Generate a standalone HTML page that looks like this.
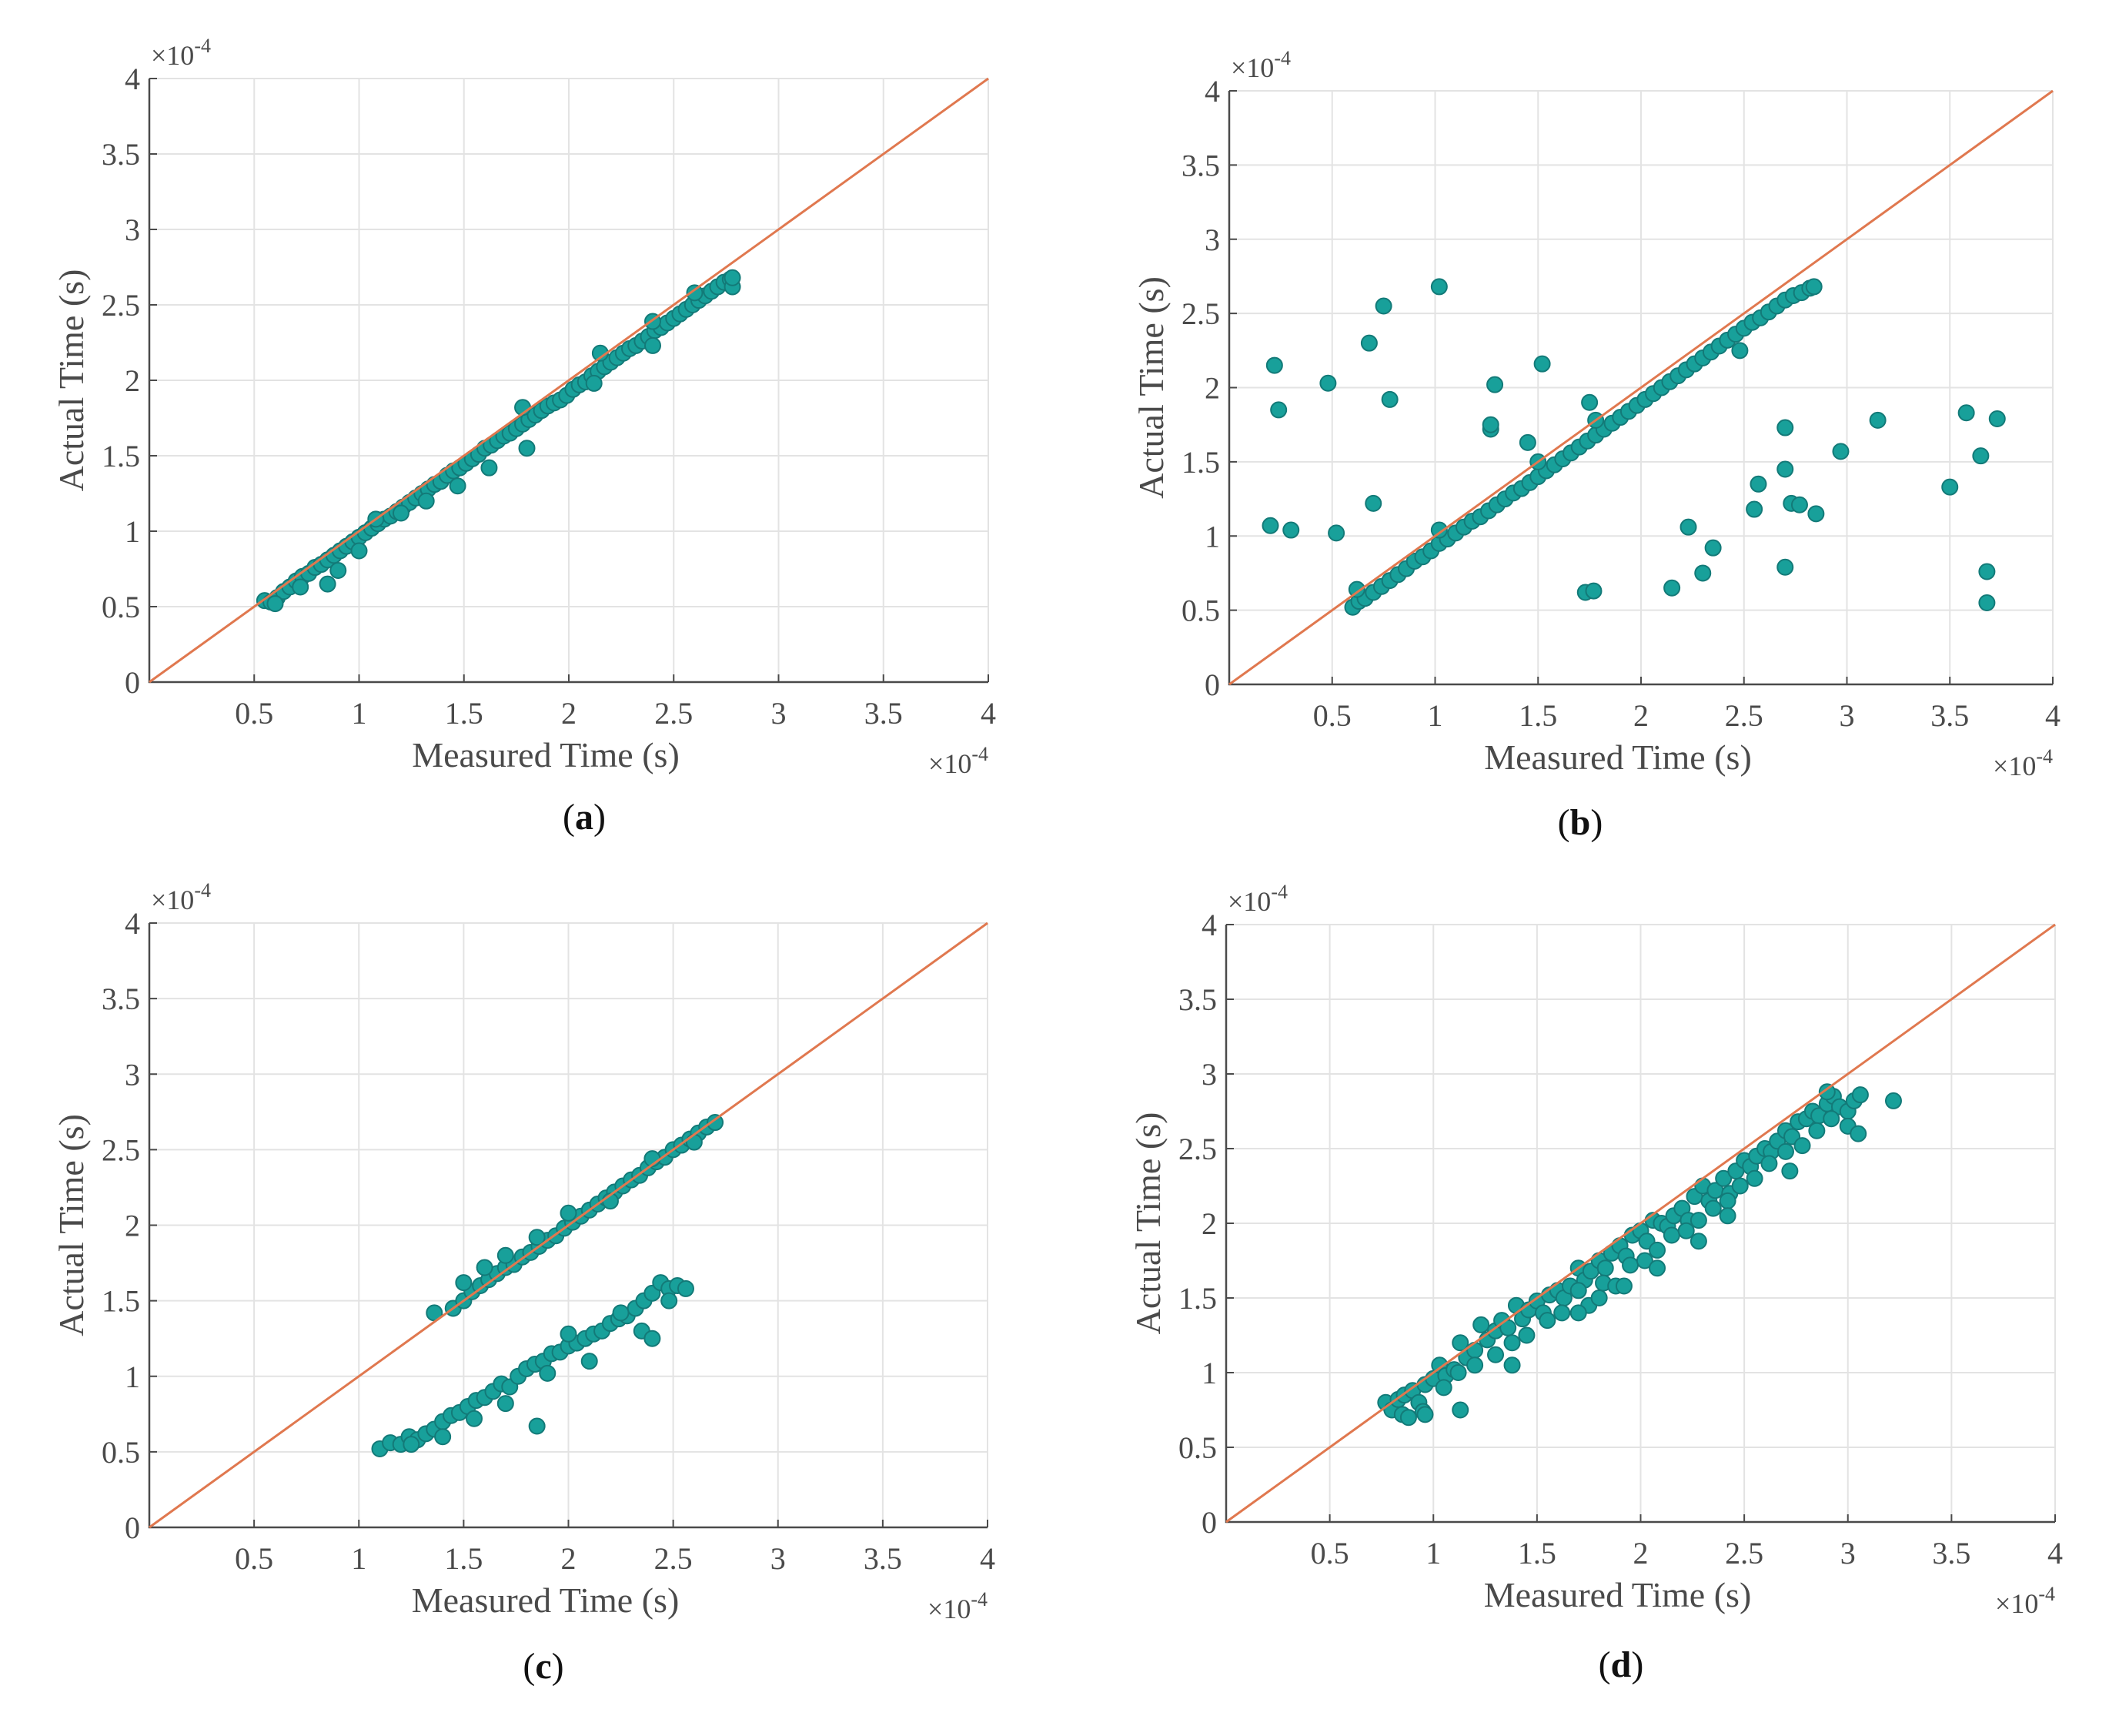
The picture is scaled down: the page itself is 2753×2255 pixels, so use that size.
<!DOCTYPE html>
<html><head><meta charset="utf-8"><style>
html,body{margin:0;padding:0;background:#fff;}
svg{display:block;}
text{font-family:"Liberation Serif",serif;}
</style></head><body>
<svg id="fig" width="2753" height="2255" viewBox="0 0 2753 2255" xmlns="http://www.w3.org/2000/svg"></svg>
<script>
// Data (units of 1e-4 s)
const xTicks=[0,0.5,1,1.5,2,2.5,3,3.5,4];
const xTickLabels=["","0.5","1","1.5","2","2.5","3","3.5","4"];
const yTicks=[0,0.5,1,1.5,2,2.5,3,3.5,4];
const yTickLabels=["0","0.5","1","1.5","2","2.5","3","3.5","4"];
const panelLabels=["a","b","c","d"];

const aX=[0.55,0.58,0.61,0.64,0.67,0.70,0.73,0.76,0.79,0.82,0.85,0.88,0.91,0.94,0.97,1.00,1.03,1.06,1.09,1.12,1.15,1.18,1.21,1.24,1.27,1.30,1.33,1.36,1.39,1.42,1.45,1.48,1.51,1.54,1.57,1.60,1.63,1.66,1.69,1.72,1.75,1.78,1.81,1.84,1.87,1.90,1.93,1.96,1.99,2.02,2.05,2.08,2.11,2.14,2.17,2.20,2.23,2.26,2.29,2.32,2.35,2.38,2.41,2.44,2.47,2.50,2.53,2.56,2.59,2.62,2.65,2.68,2.71,2.74,2.77,2.78,0.6,0.72,0.85,0.9,1.0,1.08,1.2,1.32,1.47,1.62,1.8,1.78,2.15,2.12,2.4,2.4,2.6,2.78];
const aY=[0.54,0.53,0.56,0.60,0.63,0.67,0.70,0.72,0.76,0.78,0.81,0.84,0.87,0.90,0.93,0.96,0.99,1.02,1.05,1.08,1.10,1.13,1.16,1.19,1.22,1.25,1.28,1.31,1.33,1.37,1.40,1.42,1.45,1.48,1.51,1.55,1.57,1.60,1.63,1.65,1.68,1.71,1.74,1.77,1.80,1.83,1.85,1.87,1.90,1.94,1.97,1.99,2.03,2.06,2.09,2.12,2.15,2.18,2.21,2.23,2.26,2.29,2.33,2.35,2.38,2.41,2.44,2.47,2.50,2.53,2.56,2.59,2.62,2.65,2.67,2.62,0.52,0.63,0.65,0.74,0.87,1.08,1.12,1.2,1.3,1.42,1.55,1.82,2.18,1.98,2.23,2.39,2.58,2.68];

const bX=[0.60,0.63,0.66,0.70,0.74,0.78,0.82,0.86,0.90,0.94,0.98,1.02,1.06,1.10,1.14,1.18,1.22,1.26,1.30,1.34,1.38,1.42,1.46,1.50,1.54,1.58,1.62,1.66,1.70,1.74,1.78,1.82,1.86,1.90,1.94,1.98,2.02,2.06,2.10,2.14,2.18,2.22,2.26,2.30,2.34,2.38,2.42,2.46,2.50,2.54,2.58,2.62,2.66,2.70,2.74,2.78,2.82,2.84,0.62,1.02,1.5,1.78,2.48,
0.22,0.24,0.20,0.30,0.48,0.52,0.68,0.75,0.70,0.78,1.02,1.27,1.27,1.29,1.52,1.45,1.75,1.73,1.77,2.15,2.23,2.30,2.35,2.55,2.57,2.70,2.70,2.70,2.73,2.77,2.85,2.97,3.15,3.50,3.58,3.65,3.68,3.68,3.73];
const bY=[0.52,0.56,0.58,0.62,0.66,0.70,0.74,0.78,0.83,0.86,0.90,0.95,0.98,1.02,1.06,1.10,1.13,1.17,1.21,1.25,1.29,1.32,1.36,1.40,1.44,1.48,1.52,1.56,1.60,1.64,1.68,1.72,1.76,1.80,1.84,1.88,1.92,1.96,2.00,2.04,2.08,2.12,2.16,2.20,2.24,2.28,2.32,2.36,2.40,2.44,2.47,2.51,2.55,2.59,2.62,2.64,2.67,2.68,0.64,1.04,1.5,1.78,2.25,
2.15,1.85,1.07,1.04,2.03,1.02,2.30,2.55,1.22,1.92,2.68,1.72,1.75,2.02,2.16,1.63,1.90,0.62,0.63,0.65,1.06,0.75,0.92,1.18,1.35,1.73,1.45,0.79,1.22,1.21,1.15,1.57,1.78,1.33,1.83,1.54,0.76,0.55,1.79];

const cX=[1.36,1.45,1.5,1.54,1.58,1.62,1.66,1.70,1.74,1.78,1.82,1.86,1.90,1.94,1.98,2.02,2.06,2.10,2.14,2.18,2.22,2.26,2.30,2.34,2.38,2.42,2.46,2.50,2.54,2.58,2.62,2.66,2.70,1.5,1.6,1.7,1.85,2.0,2.2,2.4,2.6,
1.1,1.15,1.2,1.24,1.28,1.32,1.36,1.40,1.44,1.48,1.52,1.56,1.60,1.64,1.68,1.72,1.76,1.80,1.84,1.88,1.92,1.96,2.00,2.04,2.08,2.12,2.16,2.20,2.24,2.28,2.32,2.36,2.40,2.44,2.48,2.52,2.56,1.25,1.4,1.55,1.7,1.85,1.9,2.0,2.1,2.25,2.35,2.4,2.48];
const cY=[1.42,1.45,1.50,1.56,1.60,1.64,1.68,1.72,1.74,1.79,1.82,1.86,1.90,1.93,1.98,2.02,2.06,2.10,2.14,2.18,2.22,2.26,2.30,2.33,2.38,2.42,2.45,2.50,2.53,2.57,2.61,2.65,2.68,1.62,1.72,1.80,1.92,2.08,2.16,2.44,2.55,
0.52,0.56,0.55,0.60,0.58,0.62,0.65,0.70,0.74,0.76,0.80,0.84,0.86,0.90,0.95,0.93,1.00,1.05,1.08,1.10,1.15,1.16,1.20,1.22,1.25,1.28,1.30,1.35,1.38,1.40,1.45,1.50,1.55,1.62,1.58,1.60,1.58,0.55,0.6,0.72,0.82,0.67,1.02,1.28,1.1,1.42,1.3,1.25,1.5];

const dX=[0.77,0.8,0.83,0.86,0.9,0.93,0.96,1.0,1.03,1.06,1.1,1.13,1.16,1.2,1.23,1.26,1.3,1.33,1.36,1.4,1.43,1.46,1.5,1.53,1.56,1.6,1.63,1.66,1.7,1.73,1.76,1.8,1.83,1.86,1.9,1.93,1.96,2.0,2.03,2.06,2.1,2.13,2.16,2.2,2.23,2.26,2.3,2.33,2.36,2.4,2.43,2.46,2.5,2.53,2.56,2.6,2.63,2.66,2.7,2.73,2.76,2.8,2.83,2.86,2.9,2.93,2.96,3.0,3.03,3.06,3.22,
0.85,0.95,1.05,1.12,1.2,1.3,1.38,1.45,1.55,1.62,1.7,1.75,1.82,1.88,1.95,2.02,2.08,2.15,2.22,2.28,2.35,2.42,2.48,2.55,2.62,2.7,2.78,2.85,2.92,3.0,3.05,0.88,0.96,1.13,1.38,1.7,1.8,1.92,2.08,2.28,2.42,2.72,2.9];
const dY=[0.80,0.75,0.82,0.85,0.88,0.80,0.92,0.96,1.05,0.98,1.02,1.20,1.10,1.15,1.32,1.22,1.28,1.35,1.30,1.45,1.36,1.42,1.48,1.40,1.52,1.55,1.50,1.58,1.70,1.62,1.68,1.75,1.70,1.80,1.85,1.78,1.92,1.95,1.88,2.02,2.00,1.98,2.05,2.10,2.02,2.18,2.25,2.15,2.22,2.30,2.20,2.35,2.42,2.38,2.45,2.50,2.48,2.55,2.62,2.58,2.68,2.70,2.75,2.72,2.80,2.85,2.78,2.75,2.82,2.86,2.82,
0.72,0.74,0.90,1.00,1.05,1.12,1.20,1.25,1.35,1.40,1.55,1.45,1.60,1.58,1.72,1.75,1.82,1.92,1.95,2.02,2.10,2.15,2.25,2.30,2.40,2.48,2.52,2.62,2.70,2.65,2.60,0.70,0.72,0.75,1.05,1.40,1.50,1.58,1.70,1.88,2.05,2.35,2.88];

const svg=document.getElementById('fig');
const NS='http://www.w3.org/2000/svg';
function mk(tag,attrs,parent){const e=document.createElementNS(NS,tag);for(const k in attrs)e.setAttribute(k,attrs[k]);(parent||svg).appendChild(e);return e;}

const panels=[
 {L:194,R:1284,T:102,B:886,xs:aX,ys:aY,lx:759,ly:1077},
 {L:1597,R:2667,T:118,B:889,xs:bX,ys:bY,lx:2053,ly:1084},
 {L:194,R:1283,T:1199,B:1984,xs:cX,ys:cY,lx:706,ly:2180},
 {L:1593,R:2670,T:1201,B:1977,xs:dX,ys:dY,lx:2106,ly:2178}
];

panels.forEach((p,i)=>{
 const g=mk('g',{});
 
 
 const sx=v=>p.L+(v-0)/(4-0)*(p.R-p.L);
 const sy=v=>p.B-(v-0)/(4-0)*(p.B-p.T);
 xTicks.forEach((t,k)=>{
  const l=mk('line',{x1:sx(t),x2:sx(t),y1:p.T,y2:p.B,stroke:'#e3e3e3','stroke-width':2},g);
  
  
 });
 yTicks.forEach((t,k)=>{
  const l=mk('line',{x1:p.L,x2:p.R,y1:sy(t),y2:sy(t),stroke:'#e3e3e3','stroke-width':2},g);
  
  
 });
 const ax=mk('path',{d:`M${p.L},${p.T}V${p.B}H${p.R}`,fill:'none',stroke:'#4a4a4a','stroke-width':2.5},g);
 
 
 xTicks.forEach((t,k)=>{
  mk('line',{x1:sx(t),x2:sx(t),y1:p.B,y2:p.B-10,stroke:'#4a4a4a','stroke-width':2},g);
  const tx=mk('text',{x:sx(t),y:p.B+54,'font-size':40,fill:'#4a4a4a','text-anchor':'middle'},g);
  tx.textContent=xTickLabels[k];
  
  
 });
 yTicks.forEach((t,k)=>{
  mk('line',{x1:p.L,x2:p.L+10,y1:sy(t),y2:sy(t),stroke:'#4a4a4a','stroke-width':2},g);
  const tx=mk('text',{x:p.L-12,y:sy(t)+14,'font-size':40,fill:'#4a4a4a','text-anchor':'end'},g);
  tx.textContent=yTickLabels[k];
  
  
 });
 const e1=mk('text',{x:p.L+2,y:p.T-18,'font-size':36,fill:'#4a4a4a'},g);
 e1.innerHTML='×10<tspan dy="-16" font-size="26">-4</tspan>';
 
 
 const e2=mk('text',{x:p.R,y:p.B+118,'font-size':36,fill:'#4a4a4a','text-anchor':'end'},g);
 e2.innerHTML='×10<tspan dy="-16" font-size="26">-4</tspan>';
 
 
 const xt=mk('text',{x:(p.L+p.R)/2-30,y:p.B+110,'font-size':46,fill:'#4a4a4a','text-anchor':'middle'},g);
 xt.textContent='Measured Time (s)';
 
 
 const yx=p.L-86, yy=(p.T+p.B)/2;
 const yt=mk('text',{x:yx,y:yy,'font-size':46,fill:'#4a4a4a','text-anchor':'middle',transform:`rotate(-90 ${yx} ${yy})`},g);
 yt.textContent='Actual Time (s)';
 
 
 const n=Math.min(p.xs.length,p.ys.length);
 for(let j=0;j<n;j++){
  const c=mk('circle',{cx:sx(p.xs[j]),cy:sy(p.ys[j]),r:10,fill:'#18a09a',stroke:'#137a78','stroke-width':2},g);
  
  
 }
 const ln=mk('line',{x1:sx(0),y1:sy(0),x2:sx(4),y2:sy(4),stroke:'#e0784f','stroke-width':3},g);
 
 
 const pl=mk('text',{x:p.lx,y:p.ly,'font-size':48,fill:'#111','text-anchor':'middle'},g);
 pl.innerHTML='(<tspan font-weight="bold">'+panelLabels[i]+'</tspan>)';
 
 
});
</script>
</body></html>
